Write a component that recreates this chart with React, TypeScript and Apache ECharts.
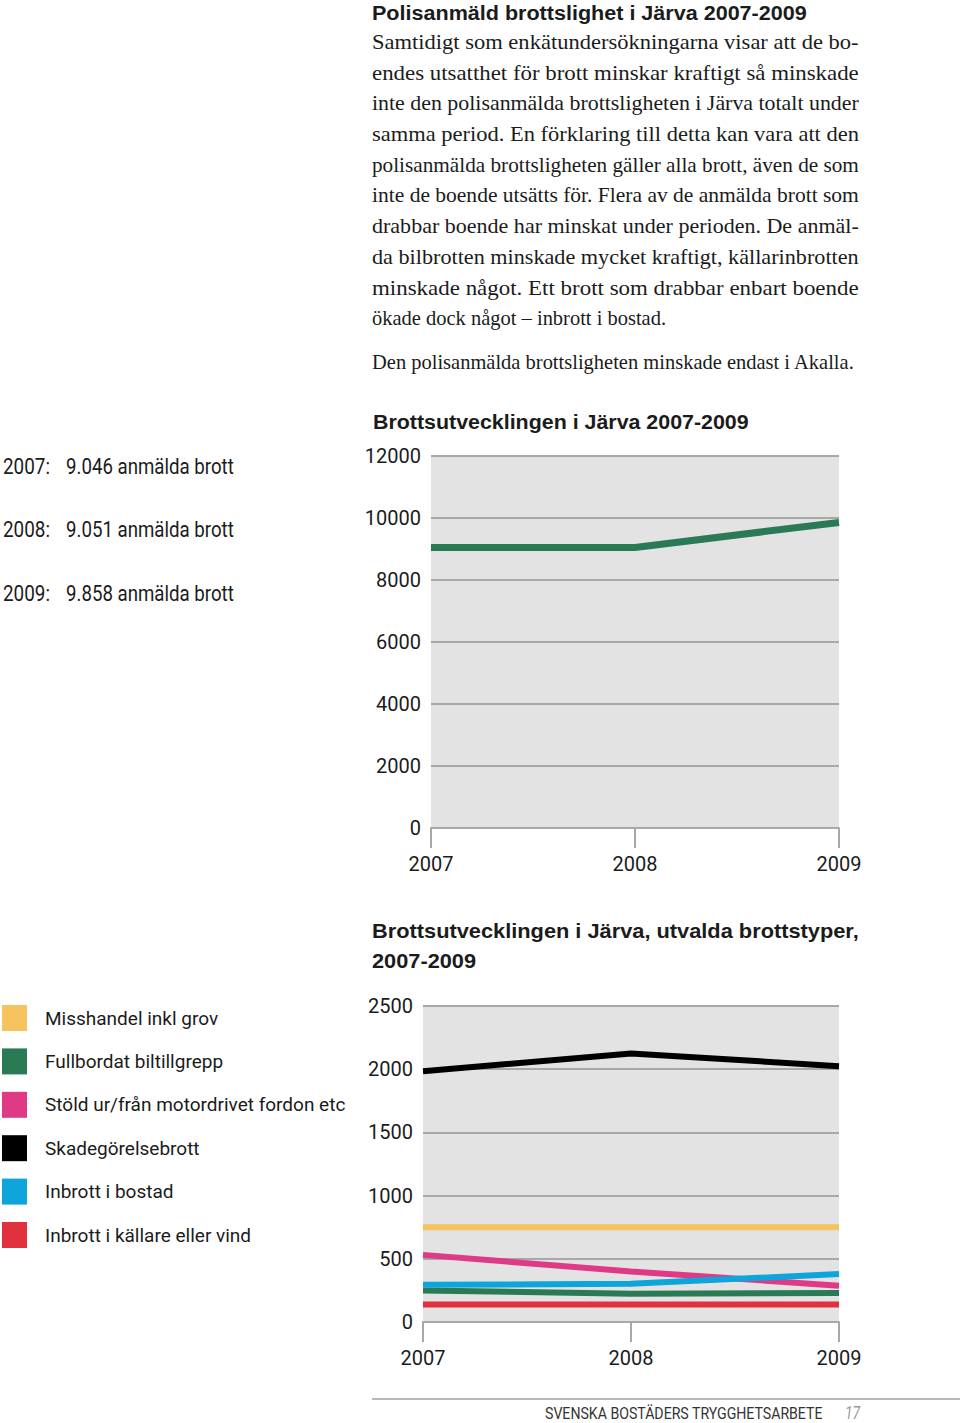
import React, { useEffect, useRef } from "react";
import * as echarts from "echarts";

// ---------- DATA ----------
const years = ["2007", "2008", "2009"];
const totalName = "Anmälda brott totalt";
const totalCrimes = [9046, 9051, 9858];

const crimeTypes = [
  "Misshandel inkl grov",
  "Fullbordat biltillgrepp",
  "Stöld ur/från motordrivet fordon etc",
  "Skadegörelsebrott",
  "Inbrott i bostad",
  "Inbrott i källare eller vind",
];
const misshandel = [750, 750, 750];
const biltillgrepp = [250, 223, 229];
const stold = [531, 400, 287];
const skadegorelse = [1984, 2124, 2024];
const inbrottBostad = [294, 302, 379];
const inbrottKallare = [139, 139, 139];
const crimeValues = [misshandel, biltillgrepp, stold, skadegorelse, inbrottBostad, inbrottKallare];
const crimeColors = ["#f7c35f", "#2a7a56", "#de3a86", "#000000", "#0ea5db", "#e1313f"];

const mainTitle = "Polisanmäld brottslighet i Järva 2007-2009";
const paragraphLines = [
  "Samtidigt som enkätundersökningarna visar att de bo-",
  "endes utsatthet för brott minskar kraftigt så minskade",
  "inte den polisanmälda brottsligheten i Järva totalt under",
  "samma period. En förklaring till detta kan vara att den",
  "polisanmälda brottsligheten gäller alla brott, även de som",
  "inte de boende utsätts för. Flera av de anmälda brott som",
  "drabbar boende har minskat under perioden. De anmäl-",
  "da bilbrotten minskade mycket kraftigt, källarinbrotten",
  "minskade något. Ett brott som drabbar enbart boende",
];
const paragraphLastLine = "ökade dock något – inbrott i bostad.";
const paragraph2 = "Den polisanmälda brottsligheten minskade endast i Akalla.";
const chart1Title = "Brottsutvecklingen i Järva 2007-2009";
const chart2TitleLines = ["Brottsutvecklingen i Järva, utvalda brottstyper,", "2007-2009"];
const totalSuffix = "anmälda brott";
const footerText = "SVENSKA BOSTÄDERS TRYGGHETSARBETE";
const pageNumber = "17";

// ---------- STYLE ----------
const CONDENSED = 'Roboto, "Liberation Sans", sans-serif';
const SANS = '"Liberation Sans", Arial, sans-serif';
const SERIF = '"Liberation Serif", "DejaVu Serif", serif';
const TEXT = "#1b1b1b";
const GRID_GREY = "#a8a8a8";
const BG = "#e3e3e3";

function measure(text: string, font: string): number {
  const c = document.createElement("canvas").getContext("2d");
  if (!c) return 1;
  c.font = font;
  return c.measureText(text).width || 1;
}

function fmtThousands(v: number): string {
  return Math.floor(v / 1000) + "." + String(v % 1000).padStart(3, "0");
}

function txt(
  text: string,
  x: number,
  y: number,
  size: number,
  family: string,
  opts: any = {}
) {
  const weight = opts.weight || "normal";
  const style = opts.italic ? "italic" : "normal";
  let scaleX = 1;
  if (opts.width) {
    const w = measure(text, `${style} ${weight} ${size}px ${family}`);
    scaleX = opts.width / w;
  } else if (opts.scaleX) {
    scaleX = opts.scaleX;
  }
  return {
    type: "text",
    x,
    y,
    scaleX,
    silent: true,
    style: {
      text,
      fontSize: size,
      fontFamily: family,
      fontWeight: weight,
      fontStyle: style,
      fill: opts.color || TEXT,
      align: "left",
      verticalAlign: "middle",
      textAlign: "left",
      textVerticalAlign: "middle",
    },
  };
}

export default function App() {
  const ref = useRef<HTMLDivElement>(null);

  useEffect(() => {
    if (!ref.current) return;
    const chart = echarts.init(ref.current, undefined, { renderer: "svg" });

    const PX = 372;
    const PW = 487;
    const PSIZE = 21;
    const pFont = `normal normal ${PSIZE}px ${SERIF}`;
    const baseScale = 483 / measure(paragraph2, pFont);

    const graphics: any[] = [];
    graphics.push(txt(mainTitle, PX, 13, 21, SANS, { weight: "bold", width: 435 }));
    paragraphLines.forEach((line, i) => {
      graphics.push(txt(line, PX, 42 + i * 30.7, PSIZE, SERIF, { width: PW }));
    });
    graphics.push(txt(paragraphLastLine, PX, 42 + paragraphLines.length * 30.7, PSIZE, SERIF, { scaleX: baseScale }));
    graphics.push(txt(paragraph2, PX, 362, PSIZE, SERIF, { scaleX: baseScale }));

    graphics.push(txt(chart1Title, 373, 422, 21, SANS, { weight: "bold", width: 376 }));
    graphics.push(txt(chart2TitleLines[0], 372, 931, 21, SANS, { weight: "bold", width: 487 }));
    graphics.push(txt(chart2TitleLines[1], 372, 961, 21, SANS, { weight: "bold", width: 104 }));

    years.forEach((y, i) => {
      const yy = 466 + i * 63.5;
      graphics.push(txt(y + ":", 3, yy, 22, CONDENSED, { width: 47 }));
      graphics.push(txt(fmtThousands(totalCrimes[i]) + " " + totalSuffix, 66, yy, 22, CONDENSED, { width: 168 }));
    });

    graphics.push({
      type: "line",
      silent: true,
      shape: { x1: 372, y1: 1399, x2: 960, y2: 1399 },
      style: { stroke: "#a0a0a0", lineWidth: 1.5 },
    });
    graphics.push(txt(footerText, 545, 1414, 16, CONDENSED, { color: "#333333", width: 278 }));
    graphics.push(txt(pageNumber, 845, 1413, 18, CONDENSED, { color: "#9a9a9a", italic: true, width: 15 }));

    const axisLabel = { fontSize: 20, fontFamily: CONDENSED, color: TEXT };
    const xAxisCommon = (gridIndex: number) => ({
      type: "category",
      gridIndex,
      data: years,
      boundaryGap: false,
      axisLine: { show: true, lineStyle: { color: GRID_GREY, width: 2 } },
      axisTick: { show: true, length: 20, lineStyle: { color: GRID_GREY, width: 2 } },
      axisLabel: { ...axisLabel, margin: 26 },
      splitLine: { show: false },
    });
    const yLabelFmt = (v: number) => String(v);

    const option: any = {
      animation: false,
      backgroundColor: "#ffffff",
      textStyle: { fontFamily: CONDENSED },
      grid: [
        {
          left: 431, top: 456, width: 408, height: 372,
          show: true, backgroundColor: BG, borderWidth: 0,
          containLabel: false, outerBoundsMode: "none",
        },
        {
          left: 423, top: 1006, width: 416, height: 316,
          show: true, backgroundColor: BG, borderWidth: 0,
          containLabel: false, outerBoundsMode: "none",
        },
      ],
      xAxis: [xAxisCommon(0), xAxisCommon(1)],
      yAxis: [
        {
          type: "value", gridIndex: 0, min: 0, max: 12000, interval: 2000,
          axisLine: { show: false }, axisTick: { show: false },
          axisLabel: { ...axisLabel, margin: 10, formatter: yLabelFmt },
          splitLine: { show: true, lineStyle: { color: GRID_GREY, width: 2 } },
        },
        {
          type: "value", gridIndex: 1, min: 0, max: 2500, interval: 500,
          axisLine: { show: false }, axisTick: { show: false },
          axisLabel: { ...axisLabel, margin: 10, formatter: yLabelFmt },
          splitLine: { show: true, lineStyle: { color: GRID_GREY, width: 2 } },
        },
      ],
      legend: {
        show: true,
        data: crimeTypes,
        orient: "vertical",
        left: 2,
        top: 1005,
        padding: 0,
        itemWidth: 25,
        itemHeight: 26,
        itemGap: 17.4,
        icon: "rect",
        selectedMode: false,
        textStyle: { fontSize: 19, fontFamily: CONDENSED, color: TEXT, padding: [0, 0, 0, 13], lineHeight: 26 },
      },
      series: [
        {
          name: totalName,
          type: "line",
          xAxisIndex: 0,
          yAxisIndex: 0,
          data: totalCrimes,
          symbol: "none",
          lineStyle: { color: "#2a7a56", width: 7 },
          itemStyle: { color: "#2a7a56" },
          silent: true,
        },
        ...crimeTypes.map((name, i) => ({
          name,
          type: "line",
          xAxisIndex: 1,
          yAxisIndex: 1,
          data: crimeValues[i],
          symbol: "none",
          lineStyle: { color: crimeColors[i], width: 6 },
          itemStyle: { color: crimeColors[i] },
          silent: true,
        })),
      ],
      graphic: { elements: graphics },
    };

    chart.setOption(option);
    return () => {
      chart.dispose();
    };
  }, []);

  return (
    <div
      ref={ref}
      style={{ position: "absolute", left: 0, top: 0, width: 960, height: 1423, background: "#fff" }}
    />
  );
}
